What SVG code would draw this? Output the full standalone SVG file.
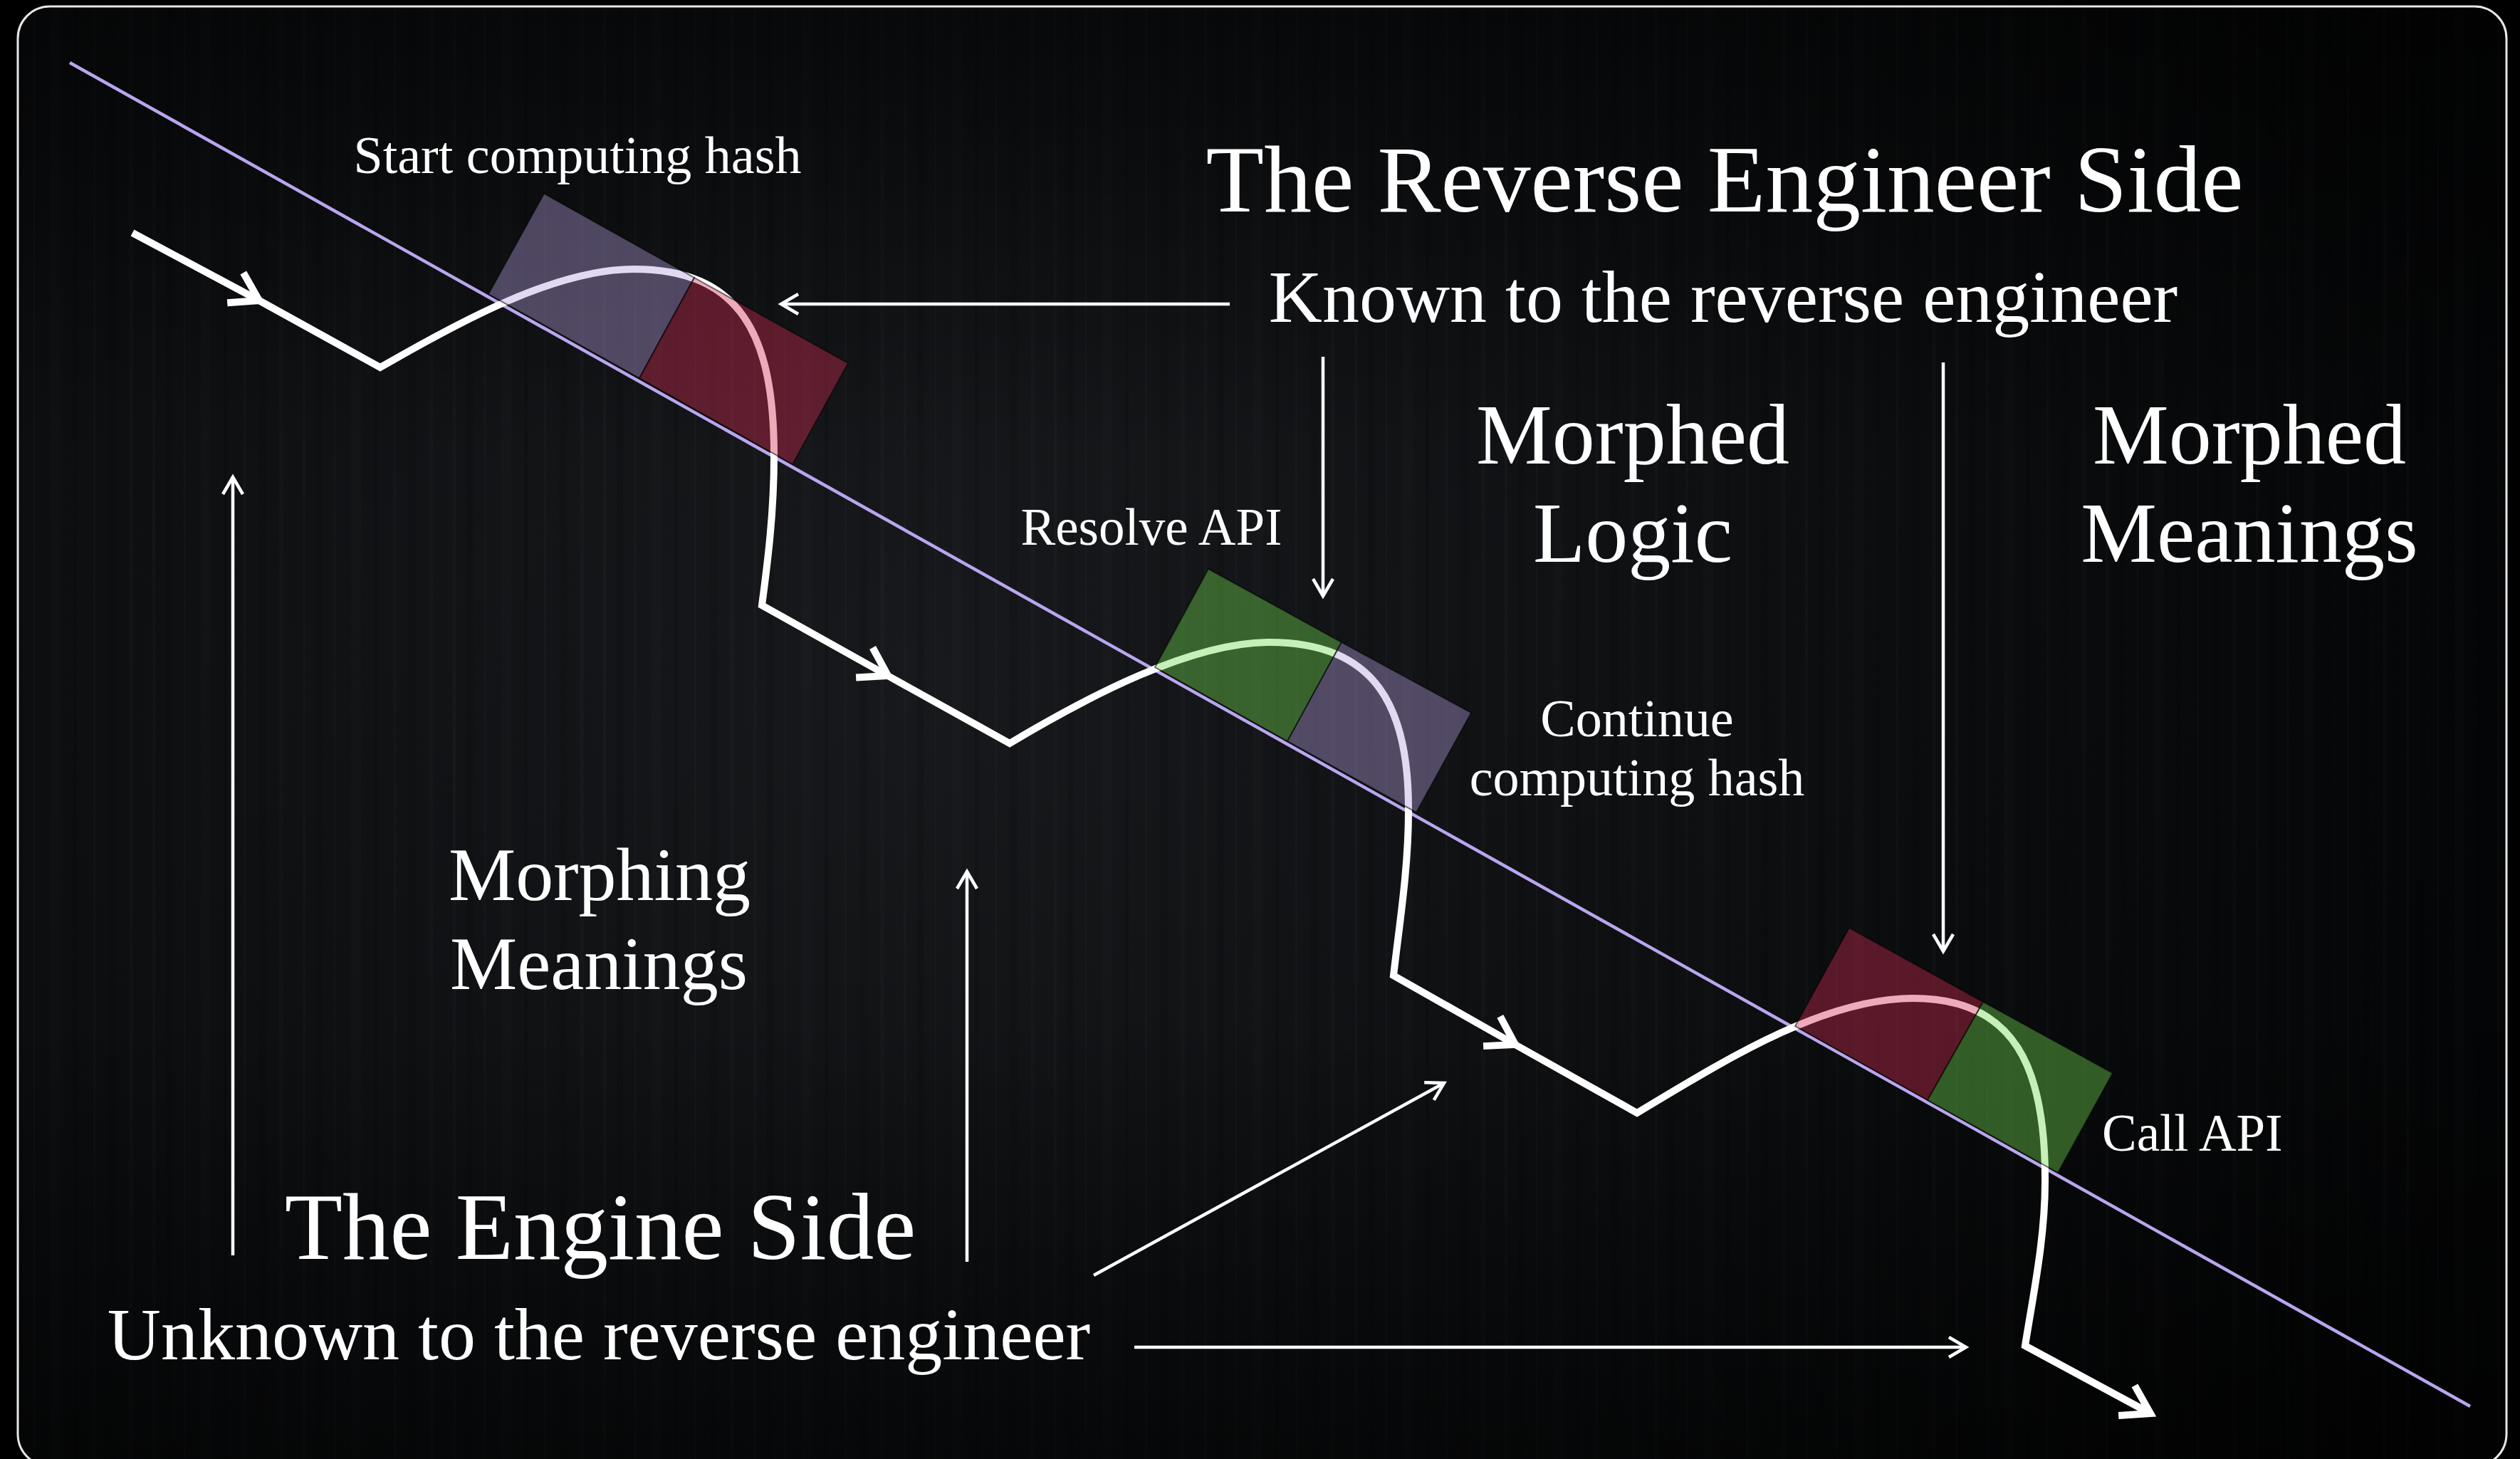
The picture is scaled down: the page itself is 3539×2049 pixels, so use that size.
<svg xmlns="http://www.w3.org/2000/svg" width="3539" height="2049" viewBox="0 0 3539 2049">
  <style>
    .t { font-family: "Liberation Serif", "Times New Roman", serif; fill: #ffffff; }
    .thick { fill: none; stroke: #ffffff; stroke-width: 10; stroke-linejoin: miter; stroke-miterlimit: 10; }
    .thin { fill: none; stroke: #ffffff; stroke-width: 4.5; }
    .lav { fill: rgb(179,158,220); fill-opacity: 0.4; stroke: #000; stroke-opacity: 0.55; stroke-width: 2; }
    .red { fill: rgb(209,45,83); fill-opacity: 0.4; stroke: #000; stroke-opacity: 0.55; stroke-width: 2; }
    .grn { fill: rgb(115,217,81); fill-opacity: 0.4; stroke: #000; stroke-opacity: 0.55; stroke-width: 2; }
  </style>
  <defs>
    <radialGradient id="bg" cx="1300" cy="950" r="2300" gradientUnits="userSpaceOnUse">
      <stop offset="0" stop-color="#1a1c20"/>
      <stop offset="0.55" stop-color="#0e1012"/>
      <stop offset="1" stop-color="#040506"/>
    </radialGradient>
    <linearGradient id="vfade" x1="0" y1="0" x2="0" y2="1">
      <stop offset="0" stop-color="#000" stop-opacity="0.55"/>
      <stop offset="0.3" stop-color="#000" stop-opacity="0.1"/>
      <stop offset="0.7" stop-color="#000" stop-opacity="0.15"/>
      <stop offset="1" stop-color="#000" stop-opacity="0.6"/>
    </linearGradient>
    <pattern id="streaks" x="0" y="0" width="211" height="2049" patternUnits="userSpaceOnUse">
      <rect x="3" y="0" width="4" height="2049" fill="#ffffff" fill-opacity="0.018"/>
      <rect x="22" y="0" width="9" height="2049" fill="#000000" fill-opacity="0.12"/>
      <rect x="47" y="0" width="2" height="2049" fill="#ffffff" fill-opacity="0.025"/>
      <rect x="71" y="0" width="14" height="2049" fill="#ffffff" fill-opacity="0.012"/>
      <rect x="103" y="0" width="5" height="2049" fill="#000000" fill-opacity="0.15"/>
      <rect x="131" y="0" width="3" height="2049" fill="#ffffff" fill-opacity="0.02"/>
      <rect x="152" y="0" width="11" height="2049" fill="#000000" fill-opacity="0.1"/>
      <rect x="181" y="0" width="6" height="2049" fill="#ffffff" fill-opacity="0.015"/>
    </pattern>
    <marker id="chevBig" viewBox="-60 -40 80 80" markerWidth="80" markerHeight="80" refX="0" refY="0" markerUnits="userSpaceOnUse" orient="auto" overflow="visible">
      <path d="M -38,-24 L 0,0 L -38,24" fill="none" stroke="#ffffff" stroke-width="10" stroke-linejoin="miter"/>
    </marker>
    <marker id="chevThin" viewBox="-40 -30 60 60" markerWidth="60" markerHeight="60" refX="0" refY="0" markerUnits="userSpaceOnUse" orient="auto" overflow="visible">
      <path d="M -24,-14 L 0,0 L -24,14" fill="none" stroke="#ffffff" stroke-width="4.5" stroke-linejoin="miter"/>
    </marker>
  </defs>

  <rect x="0" y="0" width="3539" height="2049" fill="#000000"/>
  <g id="frame">
    <rect x="25" y="9" width="3495" height="2050" rx="45" ry="45" fill="url(#bg)"/>
    <rect x="25" y="9" width="3495" height="2050" rx="45" ry="45" fill="url(#streaks)"/>
    <rect x="25" y="9" width="3495" height="2050" rx="45" ry="45" fill="url(#vfade)"/>
    <rect x="25" y="9" width="3495" height="2050" rx="45" ry="45" fill="none" stroke="#ffffff" stroke-width="3" stroke-opacity="0.9"/>
  </g>

  <g id="connectors">
    <line id="boundary" x1="98" y1="88" x2="3469" y2="1975" stroke="#b9a6ee" stroke-width="4.5"/>
    <path class="thick" d="M186,327 L364,422" marker-end="url(#chevBig)"/>
    <path class="thick" d="M362,421 L534,516 C645,452 780,378 890,378 C1040,378 1087,470 1087,640 C1087,720 1078,790 1070,850 L1247,949" marker-end="url(#chevBig)"/>
    <path class="thick" d="M1245,948 L1418,1044 C1528,978 1673,902 1783,902 C1933,902 1979,994 1978,1140 C1978,1220 1965,1300 1957,1370 L2128,1467" marker-end="url(#chevBig)"/>
    <path class="thick" d="M2126,1466 L2299,1563 C2419,1491 2559,1402 2687,1402 C2830,1402 2873,1500 2872,1660 C2872,1740 2855,1820 2844,1890 L3020,1985" marker-end="url(#chevBig)"/>

    <path class="thin" d="M1727,427 L1097,427" marker-end="url(#chevThin)"/>
    <path class="thin" d="M1858,501 L1858,837" marker-end="url(#chevThin)"/>
    <path class="thin" d="M2729,509 L2729,1336" marker-end="url(#chevThin)"/>
    <path class="thin" d="M327,1763 L327,670" marker-end="url(#chevThin)"/>
    <path class="thin" d="M1358,1772 L1358,1224" marker-end="url(#chevThin)"/>
    <path class="thin" d="M1536,1791 L2028,1521" marker-end="url(#chevThin)"/>
    <path class="thin" d="M1593,1892 L2761,1892" marker-end="url(#chevThin)"/>
  </g>

  <g id="box1">
    <polygon class="lav" points="764,272 975,390 898,531 686,413"/>
    <polygon class="red" points="975,390 1191,510 1113,652 898,531"/>
  </g>
  <g id="box2">
    <polygon class="grn" points="1697,799 1884,902 1808,1041 1622,937"/>
    <polygon class="lav" points="1884,902 2066,1001 1989,1141 1808,1041"/>
  </g>
  <g id="box3">
    <polygon class="red" points="2597,1303 2785,1407 2707,1545 2521,1441"/>
    <polygon class="grn" points="2785,1407 2967,1507 2890,1647 2707,1545"/>
  </g>

  <g id="label-start"><text class="t" x="811" y="243" font-size="74" text-anchor="middle">Start computing hash</text></g>
  <g id="label-reverse-side"><text class="t" x="2422" y="297" font-size="133.5" text-anchor="middle">The Reverse Engineer Side</text></g>
  <g id="label-known"><text class="t" x="2420" y="452" font-size="104" text-anchor="middle">Known to the reverse engineer</text></g>
  <g id="label-morphed-logic">
    <text class="t" x="2293" y="651" font-size="120" text-anchor="middle">Morphed</text>
    <text class="t" x="2293" y="789" font-size="120" text-anchor="middle">Logic</text>
  </g>
  <g id="label-morphed-meanings">
    <text class="t" x="3159" y="651" font-size="120" text-anchor="middle">Morphed</text>
    <text class="t" x="3159" y="789" font-size="120" text-anchor="middle">Meanings</text>
  </g>
  <g id="label-resolve"><text class="t" x="1617" y="765" font-size="73" text-anchor="middle">Resolve API</text></g>
  <g id="label-continue">
    <text class="t" x="2299" y="1034" font-size="74" text-anchor="middle">Continue</text>
    <text class="t" x="2299" y="1117" font-size="74" text-anchor="middle">computing hash</text>
  </g>
  <g id="label-call"><text class="t" x="2952" y="1616" font-size="73">Call API</text></g>
  <g id="label-morphing">
    <text class="t" x="842" y="1264" font-size="106" text-anchor="middle">Morphing</text>
    <text class="t" x="841" y="1389" font-size="106" text-anchor="middle">Meanings</text>
  </g>
  <g id="label-engine-side"><text class="t" x="843" y="1768" font-size="133" text-anchor="middle">The Engine Side</text></g>
  <g id="label-unknown"><text class="t" x="841" y="1909" font-size="104" text-anchor="middle">Unknown to the reverse engineer</text></g>
</svg>
